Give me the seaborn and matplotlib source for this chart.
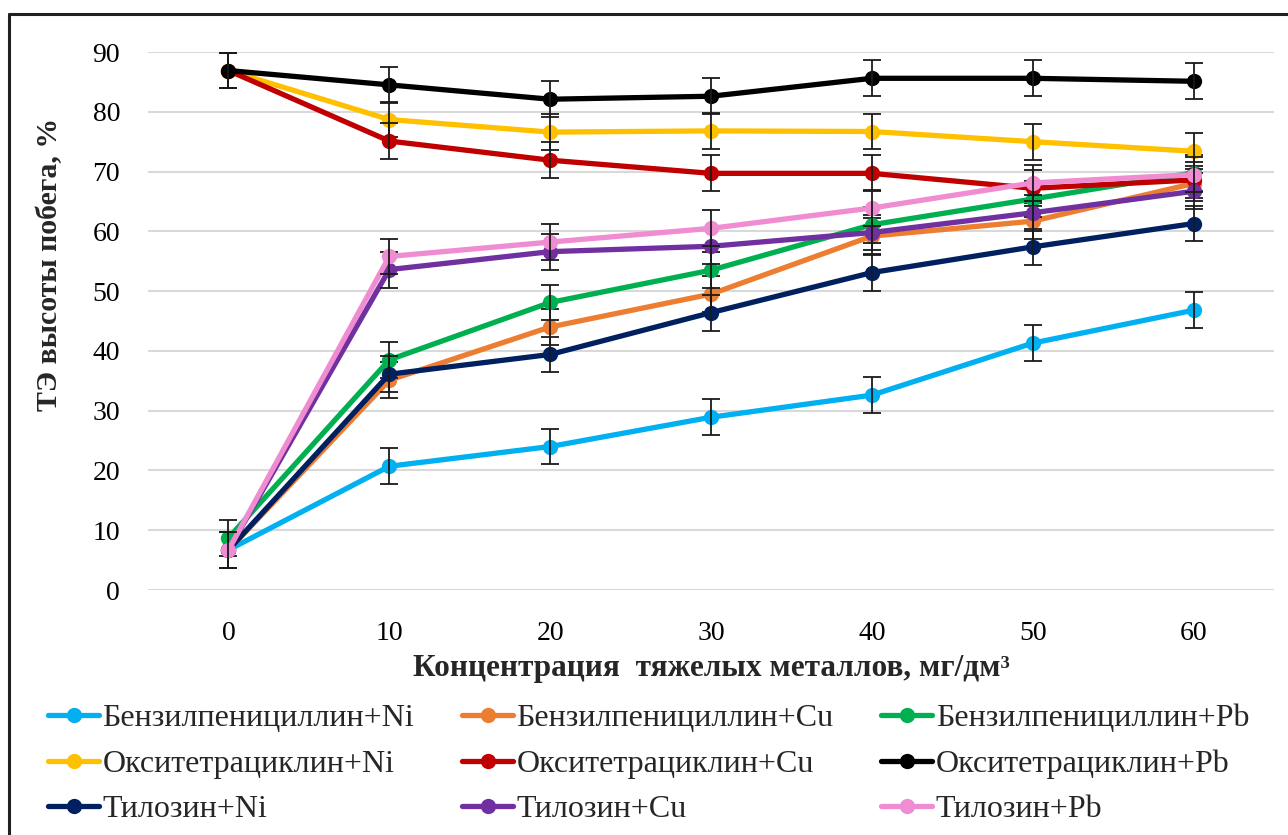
import numpy as np
import pandas as pd
import matplotlib
matplotlib.use("Agg")
import matplotlib.pyplot as plt
from matplotlib.lines import Line2D
import seaborn as sns

# Heavy-metal concentration, mg/dm3
conc = [0, 10, 20, 30, 40, 50, 60]

# Shoot-height effect, % (series in legend order)
benz_ni = [6.7, 20.7, 24.0, 28.9, 32.6, 41.3, 46.8]
benz_cu = [6.7, 35.1, 44.0, 49.5, 59.2, 61.7, 68.0]
benz_pb = [8.7, 38.5, 48.1, 53.5, 61.1, 65.4, 69.8]
oxy_ni = [86.9, 78.7, 76.6, 76.8, 76.7, 75.0, 73.4]
oxy_cu = [86.9, 75.1, 71.9, 69.7, 69.7, 67.2, 68.6]
oxy_pb = [86.9, 84.5, 82.1, 82.6, 85.6, 85.6, 85.1]
tyl_ni = [6.7, 36.1, 39.4, 46.4, 53.1, 57.4, 61.3]
tyl_cu = [6.7, 53.6, 56.6, 57.5, 59.8, 63.1, 66.7]
tyl_pb = [6.7, 55.8, 58.2, 60.5, 63.9, 68.1, 69.5]
err = 3.0

series_names = [
    "Бензилпенициллин+Ni", "Бензилпенициллин+Cu", "Бензилпенициллин+Pb",
    "Окситетрациклин+Ni", "Окситетрациклин+Cu", "Окситетрациклин+Pb",
    "Тилозин+Ni", "Тилозин+Cu", "Тилозин+Pb",
]
series_values = [benz_ni, benz_cu, benz_pb, oxy_ni, oxy_cu, oxy_pb,
                 tyl_ni, tyl_cu, tyl_pb]
colors = ["#00B0F0", "#ED7D31", "#00B050", "#FFC000", "#C00000", "#000000",
          "#002060", "#7030A0", "#F08CD2"]

yticks = [0, 10, 20, 30, 40, 50, 60, 70, 80, 90]

sns.set_theme(style="white")
plt.rcParams["font.family"] = ["Liberation Serif", "DejaVu Serif"]

fig = plt.figure(figsize=(12.88, 8.35), dpi=100)
ax = fig.add_axes([148 / 1288, 1 - 590 / 835, (1274 - 148) / 1288, (590 - 52) / 835])

pos = np.arange(len(conc))
handles = []
for i, (name, vals, col) in enumerate(zip(series_names, series_values, colors)):
    df = pd.DataFrame({"x": pos, "y": vals})
    sns.lineplot(data=df, x="x", y="y", ax=ax, color=col, linewidth=3.8,
                 marker="o", markersize=11, markeredgewidth=0,
                 zorder=3 + i * 0.01, legend=False)
    ax.errorbar(pos, vals, yerr=err, fmt="none", ecolor="#1a1a1a",
                elinewidth=1.3, capsize=6.5, capthick=1.3,
                zorder=3.005 + i * 0.01, clip_on=False)
    handles.append(Line2D([0], [0], color=col, linewidth=3.8, marker="o",
                          markersize=11, markeredgewidth=0))

ax.set_xlim(-0.5, len(conc) - 0.5)
ax.set_ylim(0, 90)
ax.set_yticks(yticks)
ax.set_xticks(pos)
ax.set_xticklabels([str(c) for c in conc])
ax.grid(axis="y", color="#D9D9D9", linewidth=1.5, zorder=0)
ax.grid(axis="x", visible=False)
for s in ax.spines.values():
    s.set_visible(False)
ax.tick_params(axis="both", length=0, labelsize=20, colors="#000000")
ax.tick_params(axis="y", pad=20)
ax.tick_params(axis="x", pad=22)

ax.set_xlabel("Концентрация  тяжелых металлов, мг/дм³", fontsize=22.5,
              fontweight="bold", labelpad=6)
ax.set_ylabel("ТЭ высоты побега, %", fontsize=21.5, fontweight="bold")
ax.yaxis.set_label_coords(-0.0756, 0.606)

order = [0, 3, 6, 1, 4, 7, 2, 5, 8]
leg = fig.legend([handles[k] for k in order], [series_names[k] for k in order],
                 ncol=3, loc="upper left", bbox_to_anchor=(48 / 1288, 1 - 704 / 835),
                 frameon=False, fontsize=23, handlelength=1.6, handletextpad=0.1,
                 columnspacing=1.5, labelspacing=0.5, borderaxespad=0,
                 borderpad=0)

# Outer frame (left and top edges)
fig.add_artist(Line2D([9 / 1288, 9 / 1288], [0, 1 - 14 / 835],
                      transform=fig.transFigure, color="#202020", linewidth=2.2))
fig.add_artist(Line2D([9 / 1288, 1], [1 - 14 / 835, 1 - 14 / 835],
                      transform=fig.transFigure, color="#202020", linewidth=2.2))

fig.savefig("out.png", dpi=100, facecolor="white")
